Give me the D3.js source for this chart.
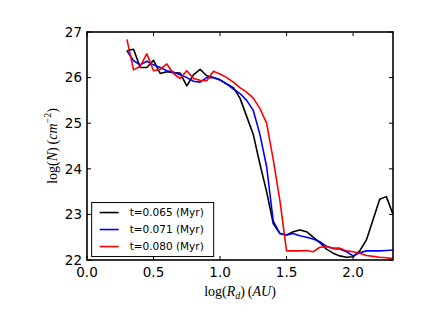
<!DOCTYPE html>
<html>
<head>
<meta charset="utf-8">
<script src="https://cdn.jsdelivr.net/npm/d3@7"></script>
<style>
  body { margin: 0; background: #fff; }
  text { font-family: "DejaVu Sans", sans-serif; }
  .math { font-family: "Liberation Serif", "DejaVu Serif", serif; }
</style>
</head>
<body>
<div id="chart"></div>
<script>
// log(R_d) grid shared by all three snapshots
const logR = [0.30, 0.35, 0.40, 0.45, 0.50, 0.55, 0.60, 0.65, 0.70, 0.75,
  0.80, 0.85, 0.90, 0.95, 1.00, 1.05, 1.10, 1.15, 1.20, 1.25,
  1.30, 1.35, 1.40, 1.45, 1.50, 1.55, 1.60, 1.65, 1.70, 1.75,
  1.80, 1.85, 1.90, 1.95, 2.00, 2.05, 2.10, 2.15, 2.20, 2.25, 2.30];

const logN_065 = [26.59, 26.62, 26.22, 26.22, 26.38, 26.09, 26.13, 26.11, 26.10, 25.82,
  26.06, 26.18, 26.04, 26.00, 25.95, 25.86, 25.78, 25.55, 25.15, 24.75,
  24.10, 23.50, 22.80, 22.58, 22.55, 22.62, 22.66, 22.62, 22.50, 22.38,
  22.24, 22.15, 22.09, 22.06, 22.07, 22.20, 22.44, 22.88, 23.33, 23.39, 23.00];

const logN_071 = [26.59, 26.37, 26.28, 26.36, 26.28, 26.22, 26.15, 26.12, 26.06, 26.00,
  25.92, 25.90, 26.00, 26.00, 25.95, 25.86, 25.75, 25.65, 25.50, 25.28,
  24.75, 24.05, 22.85, 22.58, 22.55, 22.58, 22.53, 22.50, 22.46, 22.40,
  22.30, 22.25, 22.24, 22.18, 22.09, 22.16, 22.20, 22.20, 22.20, 22.21, 22.22];

const logN_080 = [26.84, 26.17, 26.25, 26.52, 26.15, 26.18, 26.30, 26.09, 25.98, 26.15,
  25.98, 25.94, 25.93, 26.14, 26.08, 26.00, 25.90, 25.78, 25.68, 25.55,
  25.32, 25.00, 24.20, 23.30, 22.20, 22.20, 22.20, 22.21, 22.18, 22.28,
  22.29, 22.26, 22.26, 22.20, 22.18, 22.15, 22.10, 22.08, 22.06, 22.05, 22.03];

const seriesNames = ['t=0.065 (Myr)', 't=0.071 (Myr)', 't=0.080 (Myr)'];
const seriesColors = ['#000000', '#0000ff', '#ff0000'];
const xTicks = [0.0, 0.5, 1.0, 1.5, 2.0];
const yTicks = [22, 23, 24, 25, 26, 27];

const series = [logN_065, logN_071, logN_080].map((vals, i) => ({
  name: seriesNames[i],
  color: seriesColors[i],
  points: logR.map((r, j) => ({ r, n: vals[j] }))
}));

const W = 436, H = 327;
const margin = { top: 32, right: 43, bottom: 67, left: 87 };
const width = W - margin.left - margin.right;
const height = H - margin.top - margin.bottom;

const svg = d3.select('#chart')
  .append('svg')
  .attr('width', W)
  .attr('height', H);

const g = svg.append('g')
  .attr('transform', `translate(${margin.left},${margin.top})`);

const x = d3.scaleLinear().domain([0, 2.3]).range([0, width]);
const y = d3.scaleLinear().domain([22, 27]).range([height, 0]);

g.append('clipPath').attr('id', 'clip')
  .append('rect').attr('width', width).attr('height', height);

const line = d3.line()
  .x(d => x(d.r))
  .y(d => y(d.n));

g.append('g').attr('clip-path', 'url(#clip)')
  .selectAll('path')
  .data(series)
  .enter()
  .append('path')
  .attr('fill', 'none')
  .attr('stroke', d => d.color)
  .attr('stroke-width', 1.6)
  .attr('stroke-linejoin', 'round')
  .attr('d', d => line(d.points));

// ticks inside on all four sides (matplotlib classic)
const tickLen = 4;
const tickStyle = sel => sel.attr('stroke', '#000').attr('stroke-width', 1);

xTicks.forEach(t => {
  g.append('line').call(tickStyle)
    .attr('x1', x(t)).attr('x2', x(t)).attr('y1', height).attr('y2', height - tickLen);
  g.append('line').call(tickStyle)
    .attr('x1', x(t)).attr('x2', x(t)).attr('y1', 0).attr('y2', tickLen);
  g.append('text')
    .attr('x', x(t)).attr('y', height + 17)
    .attr('text-anchor', 'middle')
    .attr('font-size', 13.5)
    .text(t.toFixed(1));
});

yTicks.forEach(t => {
  g.append('line').call(tickStyle)
    .attr('x1', 0).attr('x2', tickLen).attr('y1', y(t)).attr('y2', y(t));
  g.append('line').call(tickStyle)
    .attr('x1', width).attr('x2', width - tickLen).attr('y1', y(t)).attr('y2', y(t));
  g.append('text')
    .attr('x', -5).attr('y', y(t))
    .attr('dy', '0.36em')
    .attr('text-anchor', 'end')
    .attr('font-size', 13.5)
    .text(t);
});

// frame
g.append('rect')
  .attr('width', width).attr('height', height)
  .attr('fill', 'none')
  .attr('stroke', '#000')
  .attr('stroke-width', 1.6);

// axis labels
const xl = g.append('text')
  .attr('class', 'math')
  .attr('x', width / 2).attr('y', height + 36)
  .attr('text-anchor', 'middle')
  .attr('font-size', 14);
xl.append('tspan').text('log(');
xl.append('tspan').attr('font-style', 'italic').text('R');
xl.append('tspan').attr('font-style', 'italic').attr('font-size', 10).attr('dy', 3).text('d');
xl.append('tspan').attr('dy', -3).text(')\u2009(');
xl.append('tspan').attr('font-style', 'italic').text('AU');
xl.append('tspan').text(')');

const yl = g.append('text')
  .attr('class', 'math')
  .attr('transform', `translate(-30,${height / 2}) rotate(-90)`)
  .attr('text-anchor', 'middle')
  .attr('font-size', 14);
yl.append('tspan').text('log(');
yl.append('tspan').attr('font-style', 'italic').text('N');
yl.append('tspan').text(')\u2009(');
yl.append('tspan').attr('font-style', 'italic').text('cm');
yl.append('tspan').attr('font-size', 10).attr('dy', -6).text('\u22122');
yl.append('tspan').attr('dy', 6).text(')');

// legend
const leg = g.append('g').attr('transform', `translate(${x(0.035)},${y(23.26)})`);
leg.append('rect')
  .attr('width', 122).attr('height', 54)
  .attr('fill', '#fff')
  .attr('stroke', '#000')
  .attr('stroke-width', 1);
series.forEach((s, i) => {
  const yy = 10 + i * 17;
  leg.append('line')
    .attr('x1', 8).attr('x2', 27).attr('y1', yy).attr('y2', yy)
    .attr('stroke', s.color).attr('stroke-width', 1.6);
  leg.append('text')
    .attr('x', 38).attr('y', yy).attr('dy', '0.36em')
    .attr('font-size', 10.5)
    .text(s.name);
});
</script>
</body>
</html>
